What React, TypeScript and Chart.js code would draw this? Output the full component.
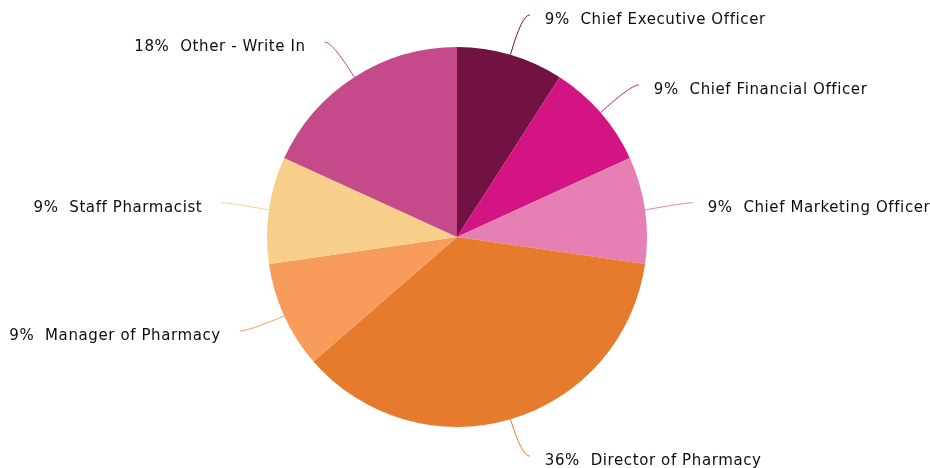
import React, { useEffect, useRef } from "react";
import { Chart, registerables } from "chart.js";

Chart.register(...registerables);

const categories = [
  "Chief Executive Officer",
  "Chief Financial Officer",
  "Chief Marketing Officer",
  "Director of Pharmacy",
  "Manager of Pharmacy",
  "Staff Pharmacist",
  "Other - Write In",
];
const values = [1, 1, 1, 4, 1, 1, 2];
const percentLabels = ["9%", "9%", "9%", "36%", "9%", "9%", "18%"];
const colors = ["#721242", "#d41482", "#e67fb3", "#e67b2e", "#f79c5b", "#f7cf8b", "#c44a8a"];

const leaderPlugin = {
  id: "leaderLabels",
  afterDatasetsDraw(chart: any) {
    const ctx = chart.ctx as CanvasRenderingContext2D;
    const meta = chart.getDatasetMeta(0);
    meta.data.forEach((arc: any, i: number) => {
      const { x, y, startAngle, endAngle, outerRadius } = arc.getProps(
        ["x", "y", "startAngle", "endAngle", "outerRadius"],
        true
      );
      const mid = (startAngle + endAngle) / 2;
      const c = Math.cos(mid);
      const s = Math.sin(mid);
      const right = c >= 0;
      const dir = right ? 1 : -1;
      const p0x = x + outerRadius * c;
      const p0y = y + outerRadius * s;
      const rCtl = outerRadius + 40;
      const cx = x + rCtl * c;
      const cy = y + rCtl * s - 1.5;
      const p1x = cx + dir * 8;
      const p1y = cy;
      ctx.save();
      ctx.strokeStyle = colors[i];
      ctx.lineWidth = 1;
      ctx.beginPath();
      ctx.moveTo(p0x, p0y);
      ctx.quadraticCurveTo(cx, cy, p1x, p1y);
      ctx.stroke();
      ctx.fillStyle = "#0d0d0d";
      ctx.font = "15px 'DejaVu Sans', sans-serif";
      (ctx as any).letterSpacing = "0.6px";
      ctx.textBaseline = "middle";
      ctx.textAlign = right ? "left" : "right";
      const text = percentLabels[i] + "  " + categories[i];
      ctx.fillText(text, right ? p1x + 15 : p1x - 19, p1y + 5);
      ctx.restore();
    });
  },
};

export default function App() {
  const ref = useRef<HTMLCanvasElement | null>(null);
  useEffect(() => {
    document.body.style.margin = "0";
    const chart = new Chart(ref.current as HTMLCanvasElement, {
      type: "pie",
      data: {
        labels: categories,
        datasets: [
          {
            data: values,
            backgroundColor: colors,
            borderWidth: 0,
          },
        ],
      },
      options: {
        animation: false,
        responsive: false,
        layout: { padding: { top: 47, bottom: 41, left: 0, right: 16 } },
        plugins: { legend: { display: false }, tooltip: { enabled: false } },
      },
      plugins: [leaderPlugin],
    });
    return () => chart.destroy();
  }, []);
  return (
    <div style={{ width: 930, height: 468 }}>
      <canvas ref={ref} width={930} height={468} style={{ display: "block" }} />
    </div>
  );
}
